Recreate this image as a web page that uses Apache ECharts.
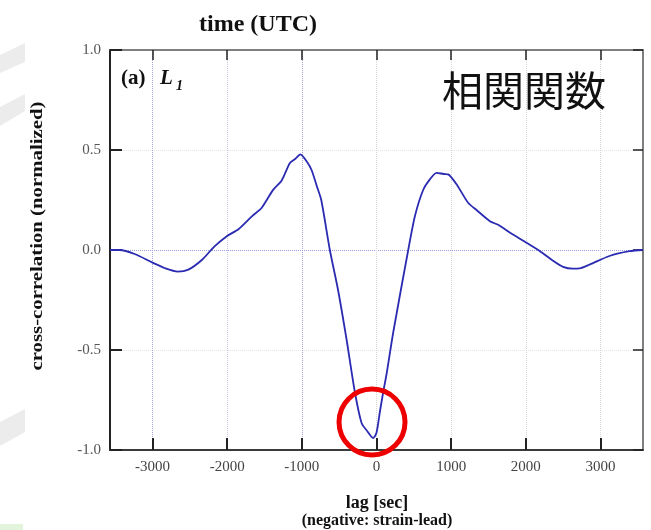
<!DOCTYPE html>
<html>
<head>
<meta charset="utf-8">
<script src="https://cdn.jsdelivr.net/npm/echarts@6/dist/echarts.min.js"></script>
<style>
  html, body { margin: 0; padding: 0; background: #ffffff; }
  #chart { width: 651px; height: 530px; }
</style>
</head>
<body>
<div id="chart"></div>
<script>
// Cross-correlation of the L1 component against strain, as a function of lag.
const lags = [-3570, -3440, -3240, -3000, -2840, -2660, -2520, -2340, -2170, -2010,
  -1850, -1670, -1540, -1390, -1270, -1160, -1090, -1020, -930, -870,
  -800, -740, -625, -515, -400, -290, -200, -125, -45, 0,
  45, 90, 135, 225, 425, 515, 625, 715, 805, 900,
  960, 1070, 1120, 1230, 1340, 1520, 1630, 1790, 2010, 2190,
  2350, 2500, 2630, 2720, 2860, 3120, 3390, 3570];
const corr = [0, 0, -0.02, -0.063, -0.09, -0.108, -0.098, -0.05, 0.018, 0.068,
  0.104, 0.168, 0.21, 0.298, 0.348, 0.435, 0.455, 0.478, 0.44, 0.40,
  0.32, 0.25, 0, -0.2, -0.45, -0.71, -0.865, -0.905, -0.94, -0.914,
  -0.81, -0.71, -0.62, -0.41, 0, 0.17, 0.30, 0.353, 0.386, 0.38,
  0.378, 0.33, 0.30, 0.235, 0.2, 0.144, 0.126, 0.086, 0.036, -0.006,
  -0.05, -0.084, -0.093, -0.092, -0.072, -0.03, -0.006, 0];

const lagTicks = [-3000, -2000, -1000, 0, 1000, 2000, 3000];
const lagRange = [-3570, 3570];
const corrRange = [-1, 1];
const corrStep = 0.5;
const minimumMark = [-60, -0.86];

const serif = "'Liberation Serif', 'Times New Roman', serif";
const chart = echarts.init(document.getElementById('chart'), null, { renderer: 'canvas' });

const points = lags.map((l, i) => [l, corr[i]]);

const option = {
  backgroundColor: '#ffffff',
  animation: false,
  grid: { left: 110, right: 8, top: 50, bottom: 80 },
  xAxis: [
    {
      type: 'value', position: 'bottom', min: lagRange[0], max: lagRange[1],
      axisLine: { show: true, onZero: false, lineStyle: { color: '#3a3a3a', width: 2 } },
      axisTick: { show: true, inside: true, length: 12, customValues: lagTicks,
        lineStyle: { color: '#222', width: 2 } },
      axisLabel: { show: true, customValues: lagTicks, margin: 10,
        fontFamily: serif, fontSize: 15, color: '#444',
        formatter: v => String(v) },
      splitLine: { show: true, lineStyle: { type: 'dotted', width: 1,
        color: ['#a4a4dc', '#c9c9e2', '#a4a4dc', '#d6d6d6', '#d6d6d6', '#d6d6d6', '#d6d6d6'] } }
    },
    {
      type: 'value', position: 'top', min: lagRange[0], max: lagRange[1],
      axisLine: { show: true, onZero: false, lineStyle: { color: '#555', width: 1.5 } },
      axisTick: { show: true, inside: true, length: 10, customValues: lagTicks,
        lineStyle: { color: '#222', width: 1.5 } },
      axisLabel: { show: false },
      splitLine: { show: false }
    }
  ],
  yAxis: [
    {
      type: 'value', position: 'left', min: corrRange[0], max: corrRange[1], interval: corrStep,
      axisLine: { show: true, onZero: false, lineStyle: { color: '#222', width: 2 } },
      axisTick: { show: true, inside: true, length: 12, lineStyle: { color: '#222', width: 2 } },
      axisLabel: { show: true, margin: 9, fontFamily: serif, fontSize: 15, color: '#555',
        formatter: v => v.toFixed(1) },
      splitLine: { show: true, lineStyle: { type: 'dotted', width: 1,
        color: ['rgba(0,0,0,0)', '#e4e4e4', '#9c9ce0', '#e4e4e4', 'rgba(0,0,0,0)'] } }
    },
    {
      type: 'value', position: 'right', min: corrRange[0], max: corrRange[1], interval: corrStep,
      axisLine: { show: true, onZero: false, lineStyle: { color: '#555', width: 1.5 } },
      axisTick: { show: true, inside: true, length: 10, lineStyle: { color: '#222', width: 1.5 } },
      axisLabel: { show: false },
      splitLine: { show: false }
    }
  ],
  series: [
    {
      type: 'line', xAxisIndex: 0, yAxisIndex: 0, data: points,
      showSymbol: false, smooth: 0.25, z: 5,
      lineStyle: { color: '#2a2ab2', width: 1.8 }
    }
  ]
};
chart.setOption(option);

// Decorations and titles; the red ring is placed at the correlation minimum.
const ring = chart.convertToPixel({ xAxisIndex: 0, yAxisIndex: 0 }, minimumMark);

chart.setOption({
  graphic: [
    { type: 'polygon', z: -10, shape: { points: [[0, 55], [25, 43], [25, 62], [0, 73]] }, style: { fill: '#ececec' } },
    { type: 'polygon', z: -10, shape: { points: [[0, 107], [25, 94], [25, 111], [0, 126]] }, style: { fill: '#ececec' } },
    { type: 'polygon', z: -10, shape: { points: [[0, 422], [25, 409], [25, 432], [0, 446]] }, style: { fill: '#ececec' } },
    { type: 'rect', z: -10, shape: { x: 0, y: 524, width: 23, height: 6 }, style: { fill: '#e2f4dc' } },
    {
      type: 'text', x: 258, y: 25, z: 10,
      style: { text: 'time (UTC)', font: 'bold 24px ' + serif, fill: '#111',
        textAlign: 'center', textVerticalAlign: 'middle' }
    },
    {
      type: 'text', x: 121, y: 79, z: 10,
      style: { text: '(a) ', font: 'bold 21px ' + serif, fill: '#111',
        textAlign: 'left', textVerticalAlign: 'middle' }
    },
    {
      type: 'text', x: 160, y: 79, z: 10,
      style: { text: 'L', font: 'italic bold 21px ' + serif, fill: '#111',
        textAlign: 'left', textVerticalAlign: 'middle' }
    },
    {
      type: 'text', x: 176, y: 86, z: 10,
      style: { text: '1', font: 'italic bold 14px ' + serif, fill: '#111',
        textAlign: 'left', textVerticalAlign: 'middle' }
    },
    {
      type: 'text', x: 524, y: 90, z: 10,
      style: { text: '相関関数', font: '41px "Noto Sans CJK JP", sans-serif', fill: '#111',
        textAlign: 'center', textVerticalAlign: 'middle' }
    },
    {
      type: 'text', x: 38, y: 236, rotation: Math.PI / 2, scaleX: 1.3, z: 10,
      style: { text: 'cross-correlation (normalized)', font: 'bold 16px ' + serif, fill: '#111',
        textAlign: 'center', textVerticalAlign: 'middle' }
    },
    {
      type: 'text', x: 377, y: 503, z: 10,
      style: { text: 'lag [sec]', font: 'bold 18px ' + serif, fill: '#111',
        textAlign: 'center', textVerticalAlign: 'middle' }
    },
    {
      type: 'text', x: 377, y: 521, z: 10,
      style: { text: '(negative: strain-lead)', font: 'bold 16px ' + serif, fill: '#111',
        textAlign: 'center', textVerticalAlign: 'middle' }
    },
    {
      type: 'circle', z: 20,
      shape: { cx: ring[0], cy: ring[1], r: 33 },
      style: { fill: 'none', stroke: '#ee0000', lineWidth: 5 }
    }
  ]
});
</script>
</body>
</html>
